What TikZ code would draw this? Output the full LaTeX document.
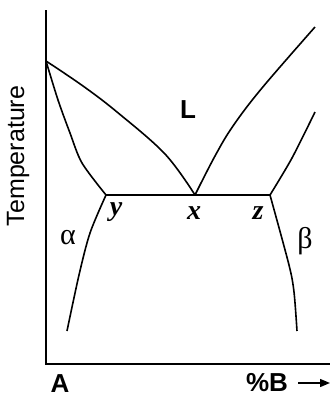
\documentclass[tikz,border=0pt]{standalone}
\usepackage{fontspec}
\setmainfont{Liberation Sans}
\newfontfamily\serifgreek{Liberation Serif}
\usetikzlibrary{arrows.meta}
\begin{document}
\begin{tikzpicture}[x=1pt,y=-1pt,
  curve/.style={line width=1.6pt,line join=round},
  axis/.style={line width=1.2pt},
  sanslab/.style={font=\fontsize{26}{30}\selectfont\bfseries,inner sep=0pt},
  pt/.style={font=\serifgreek\fontsize{28}{30}\selectfont\bfseries\itshape,inner sep=0pt},
  greek/.style={font=\serifgreek\fontsize{30}{32}\selectfont,inner sep=0pt}]
\useasboundingbox (0,0) rectangle (330,397);
% axes
\coordinate (o) at (46,364);
\coordinate (top) at (46,10);
\coordinate (right) at (330,364);
\draw[axis] (top) -- (o) -- (right);
% key points
\coordinate (tA) at (46,61);
\coordinate (e) at (195,195);
\coordinate (py) at (106,195);
\coordinate (pz) at (270,195);
\coordinate (lqr) at (315,27);
\coordinate (sor) at (315,112);
\coordinate (aend) at (67,331);
\coordinate (bend) at (297,331);
% liquidus
\draw[curve] plot[smooth,tension=0.6] coordinates {(tA) (83,86) (117,112) (165,154) (e)};
\draw[curve] plot[smooth,tension=0.6] coordinates {(e) (215,156) (233,126) (262,88) (lqr)};
% solidus
\draw[curve] plot[smooth,tension=0.5] coordinates {(tA) (58,100) (70,133) (82,163) (py)};
\draw[curve] plot[smooth,tension=0.5] coordinates {(pz) (292,158) (sor)};
% eutectic line
\draw[curve] (py) -- (e) -- (pz);
% solvus
\draw[curve] plot[smooth,tension=0.5] coordinates {(py) (90,233) (79,275) (aend)};
\draw[curve] plot[smooth,tension=0.5] coordinates {(pz) (289,265) (294,292) (bend)};
% labels
\node[sanslab] (L) at (188,110) {L};
\node[pt] (ly) at (116,212) {y};
\node[pt] (lx) at (194,213) {x};
\node[pt] (lz) at (258,213) {z};
\node[greek] (alpha) at (68,238) {α};
\node[greek] (beta) at (305,241) {β};
\node[font=\fontsize{25}{28}\selectfont,inner sep=0pt,rotate=90] (temp) at (18,156) {Temperature};
\node[sanslab] (A) at (60,384) {A};
\node[sanslab] (B) at (267,383) {\%B};
\coordinate (arrs) at (298,383);
\coordinate (arre) at (330,383);
\draw[line width=1.4pt,-{Triangle[length=10pt,width=8pt]}] (arrs) -- (arre);
\end{tikzpicture}
\end{document}
